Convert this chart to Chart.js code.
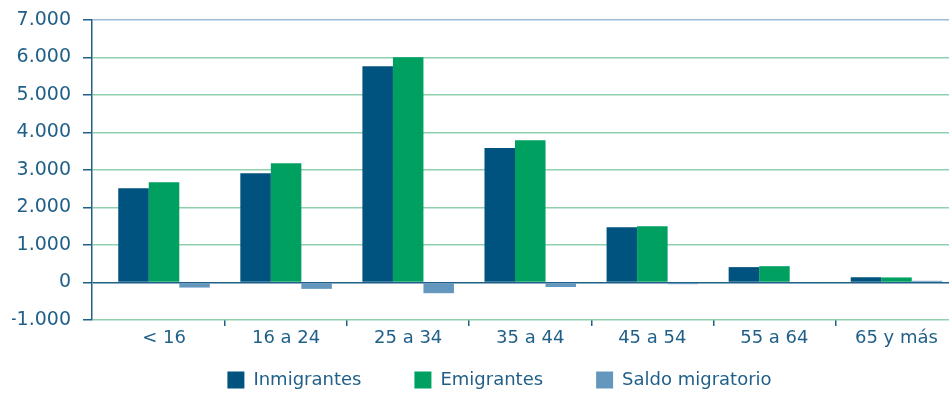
<!DOCTYPE html>
<html>
<head>
<meta charset="utf-8">
<script src="https://cdn.jsdelivr.net/npm/chart.js@4"></script>
<style>
  html, body { margin: 0; padding: 0; background: #fff; }
  #wrap { width: 949px; height: 393px; position: relative; }
</style>
</head>
<body>
<div id="wrap"><canvas id="migr"></canvas></div>
<script>
const grupos = ['< 16', '16 a 24', '25 a 34', '35 a 44', '45 a 54', '55 a 64', '65 y más'];
const inmigrantes = [2515, 2915, 5770, 3590, 1475, 410, 140];
const emigrantes = [2675, 3180, 6010, 3795, 1500, 435, 135];
const saldo = [-135, -170, -285, -120, -45, -12, 45];
const yTicks = [-1000, 0, 1000, 2000, 3000, 4000, 5000, 6000, 7000];

const txt = '#1f5f88';
const axis = '#1f5f88';
const font = { family: 'DejaVu Sans', size: 18 };

const fmt = v => (v < 0 ? '-' : '') + String(Math.abs(v)).replace(/\B(?=(\d{3})+(?!\d))/g, '.');
const pts = arr => arr.map((v, i) => ({ x: i, y: v }));

// legend sits closer to the axis labels than chart.js would place it
const moveLegend = {
    id: 'moveLegend',
    afterLayout(chart) {
        const lg = chart.legend;
        lg.top -= 37; lg.bottom += 40;
        lg.height = lg.bottom - lg.top;
        lg.left += 19; lg.right += 19;
    }
};

new Chart(document.getElementById('migr'), {
    type: 'bar',
    data: {
        datasets: [
            { label: 'Inmigrantes', data: pts(inmigrantes), backgroundColor: '#00527f' },
            { label: 'Emigrantes', data: pts(emigrantes), backgroundColor: '#00a060' },
            { label: 'Saldo migratorio', data: pts(saldo), backgroundColor: '#6497bd' }
        ]
    },
    plugins: [moveLegend],
    options: {
        responsive: true,
        maintainAspectRatio: false,
        animation: false,
        categoryPercentage: 0.75,
        barPercentage: 1,
        layout: { padding: { left: 12, right: 0, top: 4, bottom: 0 } },
        plugins: {
            tooltip: { enabled: false },
            legend: {
                position: 'bottom',
                maxHeight: 38,
                labels: {
                    boxWidth: 17,
                    boxHeight: 17,
                    padding: 53,
                    color: txt,
                    font: font
                }
            }
        },
        scales: {
            x: {
                type: 'linear',
                bounds: 'data',
                offset: false,
                min: -0.59,
                max: 6.43,
                afterBuildTicks: s => {
                    s.ticks = grupos.map((g, i) => ({ value: i - 0.5 }));
                },
                afterFit: s => { s.height = 35; },
                ticks: {
                    autoSkip: false,
                    maxRotation: 0,
                    labelOffset: 61,
                    padding: 2,
                    color: txt,
                    font: font,
                    callback: (v, i) => grupos[i]
                },
                grid: {
                    offset: false,
                    drawOnChartArea: false,
                    tickLength: 6,
                    lineWidth: 1.5,
                    tickColor: c => c.index === 0 ? 'rgba(0,0,0,0)' : axis
                },
                border: { display: false }
            },
            y: {
                min: -1000,
                max: 7000,
                afterBuildTicks: s => {
                    s.ticks = yTicks.map(v => ({ value: v }));
                },
                afterFit: s => { s.width = 80; s.paddingTop = 20; },
                ticks: {
                    padding: 12,
                    color: txt,
                    font: { family: 'DejaVu Sans', size: 19 },
                    callback: v => fmt(v)
                },
                grid: {
                    tickLength: 9,
                    lineWidth: 1.5,
                    color: c => {
                        if (!c.tick) return '#8fd1ad';
                        if (c.tick.value === 0) return axis;
                        if (c.tick.value === 7000) return '#9dbcd8';
                        return '#8fd1ad';
                    },
                    tickColor: axis
                },
                border: { display: true, color: axis, width: 1.5 }
            }
        }
    }
});
</script>
</body>
</html>
